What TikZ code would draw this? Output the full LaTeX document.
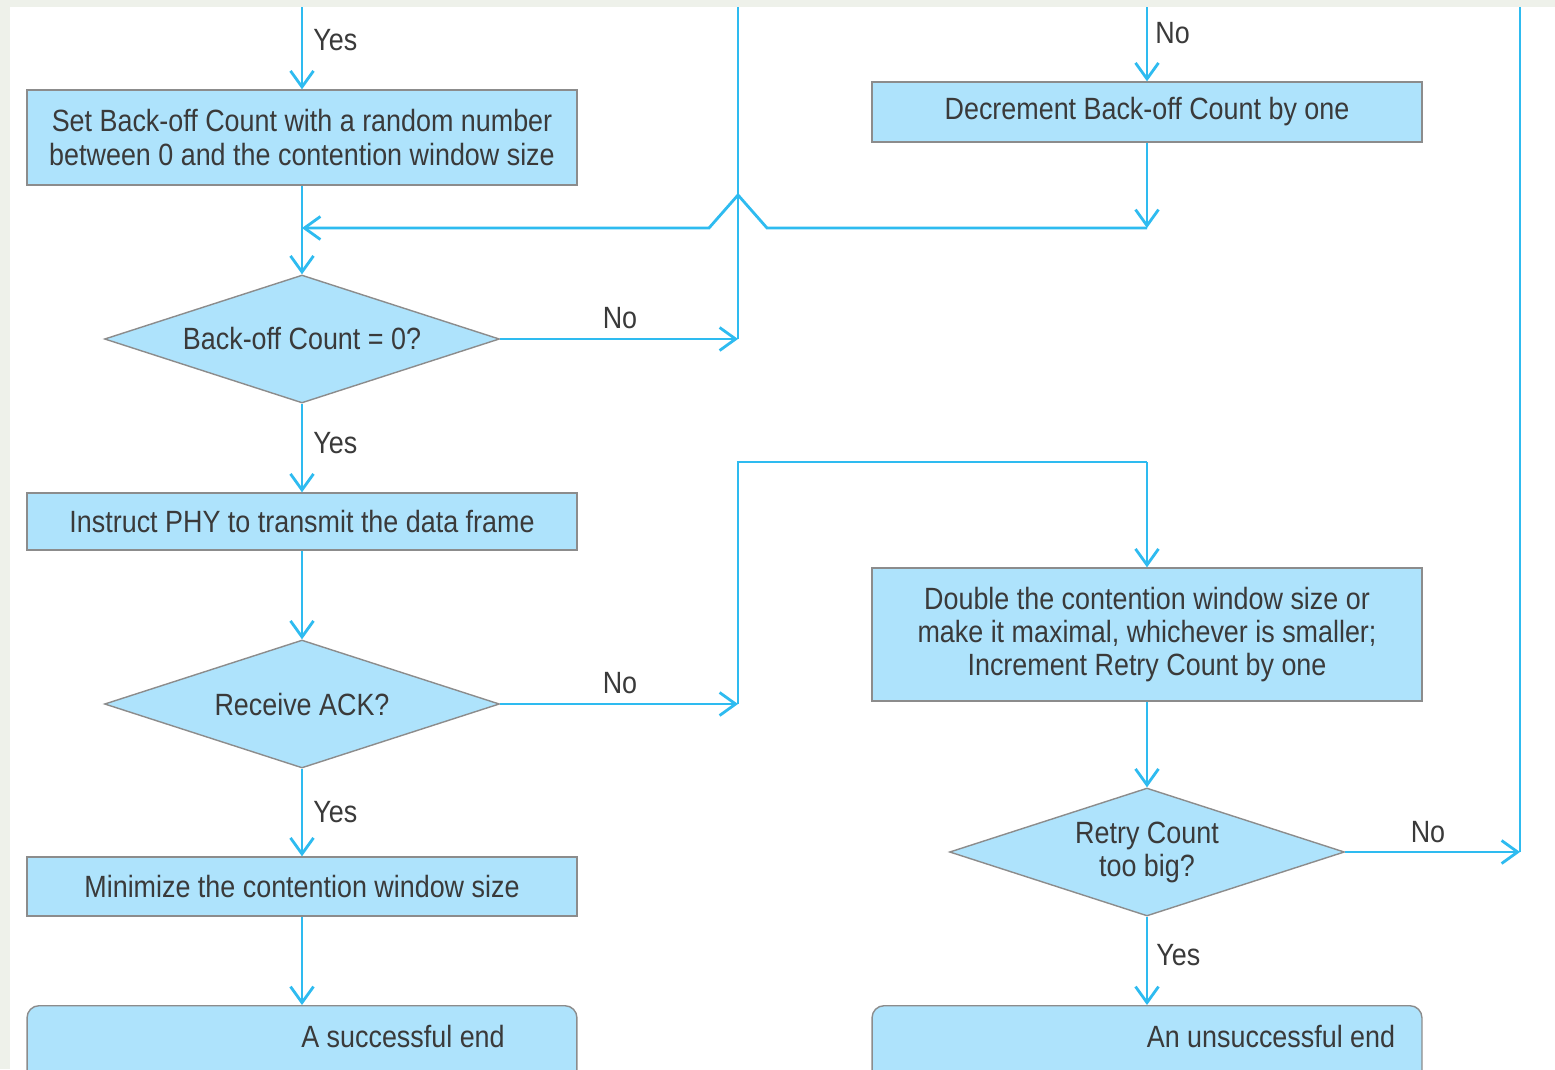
\documentclass[tikz,border=0pt]{standalone}
\usepackage{fontspec}
\setmainfont{Liberation Sans}[FakeStretch=0.875]
\usetikzlibrary{arrows.meta,shapes.geometric}
\definecolor{fillblue}{HTML}{AEE3FC}
\definecolor{linecyan}{HTML}{2EBBF0}
\definecolor{edgegray}{HTML}{8C8C8C}
\definecolor{txt}{HTML}{3A3A3A}
\definecolor{bgstrip}{HTML}{EEF1EA}
\begin{document}
\begin{tikzpicture}[x=0.02cm,y=-0.02cm,
  every node/.style={font=\fontsize{17.5}{18.8}\selectfont, text=txt},
  box/.style={draw=edgegray, line width=0.8pt, fill=fillblue, minimum width=11cm, inner sep=0pt, align=center},
  dia/.style={diamond, draw=edgegray, line width=0.8pt, fill=fillblue, aspect=3.09, minimum width=7.9cm, minimum height=2.56cm, inner sep=0pt, align=center},
  endbox/.style={draw=edgegray, line width=0.8pt, fill=fillblue, rounded corners=0.24cm, minimum width=11cm, minimum height=2cm, anchor=north},
  conn/.style={draw=linecyan, line width=1.6pt},
  arr/.style={conn, -{Straight Barb[length=0.32cm,width=0.46cm]}},
  lbl/.style={inner sep=0pt}
]
\useasboundingbox (0,0) rectangle (1555,1069);
\clip (0,0) rectangle (1555,1069);
\fill[bgstrip] (0,0) rectangle (1555,1069);
\fill[white] (10,7) rectangle (1555,1069);

% nodes
\node[box, minimum height=1.9cm] (setbo) at (302,137.5) {Set Back-off Count with a random number\\between 0 and the contention window size};
\node[box, minimum height=1.2cm] (dec) at (1147,112) {Decrement Back-off Count by one};
\node[dia] (bozero) at (302,339) {Back-off Count = 0?};
\node[box, minimum height=1.14cm] (instr) at (302,521.5) {Instruct PHY to transmit the data frame};
\node[dia] (ack) at (302,704) {Receive ACK?};
\node[box, minimum height=2.66cm] (dbl) at (1147,634.5) {Double the contention window size or\\make it maximal, whichever is smaller;\\Increment Retry Count by one};
\node[dia] (retry) at (1147,852) {Retry Count\\too big?};
\node[box, minimum height=1.18cm] (minim) at (302,886.5) {Minimize the contention window size};
\node[endbox] (succ) at (302,1005) {};
\node (succtxt) at (403,1036) {A successful end};
\node[endbox] (fail) at (1147,1005) {};
\node (failtxt) at (1271,1036) {An unsuccessful end};

% coordinates
\coordinate (topL) at (302,7);
\coordinate (topM) at (738,7);
\coordinate (topR) at (1147,7);
\coordinate (topRR) at (1520,7);
\coordinate (merge) at (302,228);
\coordinate (decdown) at (1147,228);
\coordinate (hopL) at (709,228);
\coordinate (hopT) at (738,195);
\coordinate (hopR) at (767,228);
\coordinate (noA) at (738,339);
\coordinate (noB) at (738,704);
\coordinate (upB) at (738,462);
\coordinate (overB) at (1147,462);
\coordinate (noC) at (1520,852);

% connectors
\draw[arr] (topL) -- (setbo.north);
\draw[arr] (setbo.south) -- (bozero.north);
\draw[arr] (dec.south) -- (decdown);
\draw[arr] (decdown) -- (hopR) -- (hopT) -- (hopL) -- (merge);
\draw[conn] (topM) -- (noA);
\draw[arr] (bozero.east) -- (noA);
\draw[arr] (bozero.south) -- (instr.north);
\draw[arr] (instr.south) -- (ack.north);
\draw[arr] (ack.east) -- (noB);
\draw[conn] (noB) -- (upB) -- (overB);
\draw[arr] (overB) -- (dbl.north);
\draw[arr] (ack.south) -- (minim.north);
\draw[arr] (minim.south) -- (succ.north);
\draw[arr] (topR) -- (dec.north);
\draw[arr] (dbl.south) -- (retry.north);
\draw[arr] (retry.east) -- (noC);
\draw[conn] (topRR) -- (noC);
\draw[arr] (retry.south) -- (fail.north);

% labels
\node[lbl, anchor=west] (lyes1) at (313,40) {Yes};
\node[lbl, anchor=west] (lno1) at (1155,33) {No};
\node[lbl] (lno2) at (620,318) {No};
\node[lbl, anchor=west] (lyes2) at (313,443) {Yes};
\node[lbl] (lno3) at (620,683) {No};
\node[lbl, anchor=west] (lyes3) at (313,812) {Yes};
\node[lbl] (lno4) at (1428,832) {No};
\node[lbl, anchor=west] (lyes4) at (1156,955) {Yes};
\end{tikzpicture}
\end{document}
